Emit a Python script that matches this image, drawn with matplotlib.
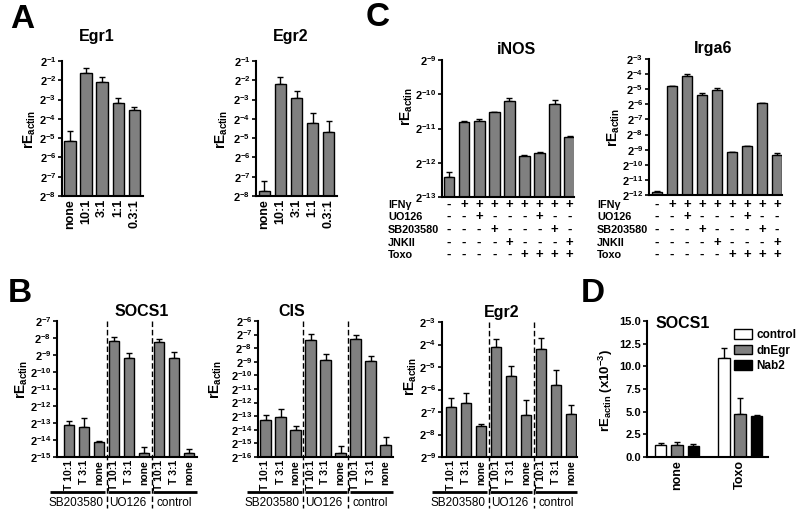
import numpy as np
import matplotlib
matplotlib.use('Agg')
import matplotlib.pyplot as plt

plt.rcParams['font.family'] = ['Liberation Sans', 'DejaVu Sans']
plt.rcParams['font.weight'] = 'bold'
plt.rcParams['mathtext.fontset'] = 'custom'
plt.rcParams['mathtext.rm'] = 'Liberation Sans:bold'
plt.rcParams['mathtext.bf'] = 'Liberation Sans:bold'
plt.rcParams['mathtext.it'] = 'Liberation Sans:bold'
plt.rcParams['mathtext.sf'] = 'Liberation Sans:bold'

# ---------------- data (log2 of rE_actin for panels A-C) ----------------
a_cats = ['none', '10:1', '3:1', '1:1', '0.3:1']
a_egr1 = [-5.15, -1.64, -2.07, -3.16, -3.54]
a_egr1_err = [-4.61, -1.38, -1.81, -2.92, -3.40]
a_egr2 = [-7.76, -2.21, -2.92, -4.23, -4.70]
a_egr2_err = [-7.20, -1.81, -2.57, -3.71, -4.11]

c_rows = ['IFNγ', 'UO126', 'SB203580', 'JNKII', 'Toxo']
c_table = [
    ['-', '+', '+', '+', '+', '+', '+', '+', '+'],
    ['-', '-', '+', '-', '-', '-', '+', '-', '-'],
    ['-', '-', '-', '+', '-', '-', '-', '+', '-'],
    ['-', '-', '-', '-', '+', '-', '-', '-', '+'],
    ['-', '-', '-', '-', '-', '+', '+', '+', '+'],
]
c_inos = [-12.43, -10.80, -10.77, -10.52, -10.19, -11.79, -11.71, -10.28, -11.25]
c_inos_err = [-12.28, -10.78, -10.72, -10.51, -10.10, -11.77, -11.68, -10.16, -11.23]
c_irga6 = [-11.82, -4.81, -4.10, -5.36, -5.03, -9.17, -8.79, -5.94, -9.37]
c_irga6_err = [-11.76, -4.79, -3.96, -5.26, -4.94, -9.15, -8.75, -5.92, -9.24]

b_cats = ['T 10:1', 'T 3:1', 'none', 'T 10:1', 'T 3:1', 'none', 'T 10:1', 'T 3:1', 'none']
b_groups = ['SB203580', 'UO126', 'control']
b_socs1 = [-13.14, -13.25, -14.14, -8.20, -9.20, -14.78, -8.25, -9.20, -14.75]
b_socs1_err = [-12.90, -12.71, -14.06, -7.94, -8.88, -14.39, -8.04, -8.84, -14.51]
b_cis = [-13.30, -13.03, -13.99, -7.42, -8.84, -15.68, -7.32, -8.94, -15.09]
b_cis_err = [-12.89, -12.45, -13.75, -6.93, -8.45, -15.22, -7.05, -8.60, -14.50]
b_egr2 = [-6.78, -6.60, -7.64, -4.13, -5.41, -7.12, -4.21, -5.81, -7.09]
b_egr2_err = [-6.36, -6.14, -7.52, -3.74, -4.96, -6.45, -3.70, -5.12, -6.70]

d_cats = ['none', 'Toxo']
d_series = ['control', 'dnEgr', 'Nab2']
d_control = [1.35, 10.94]
d_control_err = [0.19, 1.10]
d_dnegr = [1.28, 4.79]
d_dnegr_err = [0.37, 1.72]
d_nab2 = [1.24, 4.50]
d_nab2_err = [0.15, 0.11]

# ---------------- figure helpers ----------------
W, H = 800, 518
fig = plt.figure(figsize=(8, 5.18), dpi=100)
GRAY = '#808080'
TS = 11.5   # title size
YLS = 10    # y-label size


def add_axes(x0, x1, y0, y1):
    return fig.add_axes([x0 / W, 1 - y1 / H, (x1 - x0) / W, (y1 - y0) / H])


def ftext(x, y, s, **kw):
    return fig.text(x / W, 1 - y / H, s, **kw)


def style(ax, ysize=8):
    for s in ['top', 'right']:
        ax.spines[s].set_visible(False)
    for s in ['left', 'bottom']:
        ax.spines[s].set_linewidth(1.5)
    ax.tick_params(axis='y', length=3, width=1.2, pad=1, labelsize=ysize)
    ax.tick_params(axis='x', length=0, pad=2, labelsize=8.5)


def log_panel(ax, vals, errtop, ylo, yhi, xlim, width, cats=None, xweight='bold', xsize=9):
    x = np.arange(len(vals))
    v = np.power(2.0, np.array(vals))
    e = np.power(2.0, np.array(errtop))
    base = 2.0 ** ylo
    ax.set_yscale('log', base=2)
    ax.errorbar(x, v, yerr=[np.zeros_like(v), e - v], fmt='none', ecolor='black',
                elinewidth=1.0, capsize=2.5, capthick=1.0, zorder=1)
    ax.bar(x, v - base, bottom=base, width=width, color=GRAY, edgecolor='black',
           linewidth=1.0, zorder=2)
    ax.set_ylim(base, 2.0 ** yhi)
    ax.set_xlim(*xlim)
    ks = list(range(ylo, yhi + 1))
    ax.set_yticks([2.0 ** k for k in ks])
    ax.set_yticklabels([r'$2^{%d}$' % k for k in ks])
    ax.yaxis.set_minor_locator(matplotlib.ticker.NullLocator())
    style(ax)
    if cats is None:
        ax.set_xticks([])
    else:
        ax.set_xticks(x)
        ax.set_xticklabels(cats, rotation=90, fontweight=xweight, fontsize=xsize)


YL = r'rE$_{\mathrm{actin}}$'

# ---------------- Panel A ----------------
axA1 = add_axes(62, 143, 61, 196)
log_panel(axA1, a_egr1, a_egr1_err, -8, -1, (-0.5, 4.56), 0.69, a_cats)
axA2 = add_axes(256, 337, 61, 196)
log_panel(axA2, a_egr2, a_egr2_err, -8, -1, (-0.5, 4.5), 0.68, a_cats)
ftext(97, 37, 'Egr1', ha='center', va='center', fontsize=TS)
ftext(291, 37, 'Egr2', ha='center', va='center', fontsize=TS)
ftext(30, 130, YL, ha='center', va='center', rotation=90, fontsize=YLS)
ftext(222, 130, YL, ha='center', va='center', rotation=90, fontsize=YLS)

# ---------------- Panel C ----------------
row_y = [205, 217, 230, 243, 255]


def table(ax, ytop, ybot, xlab):
    for r, (lab, signs) in enumerate(zip(c_rows, c_table)):
        ftext(xlab, row_y[r], lab, ha='left', va='center', fontsize=7.8)
        yf = (ybot - row_y[r]) / (ybot - ytop)
        for j, s in enumerate(signs):
            ax.text(j, yf, s, transform=ax.get_xaxis_transform(), ha='center',
                    va='center', fontsize=9.5, clip_on=False)


axC1 = add_axes(442, 574, 60, 197)
log_panel(axC1, c_inos, c_inos_err, -13, -9, (-0.46, 8.28), 0.72)
table(axC1, 60, 197, 388)
axC2 = add_axes(649, 782, 59, 195)
log_panel(axC2, c_irga6, c_irga6_err, -12, -3, (-0.53, 8.33), 0.72)
table(axC2, 59, 195, 597)
ftext(517, 50, 'iNOS', ha='center', va='center', fontsize=TS)
ftext(713, 48, 'Irga6', ha='center', va='center', fontsize=TS)
ftext(407, 107, YL, ha='center', va='center', rotation=90, fontsize=YLS)
ftext(614, 128, YL, ha='center', va='center', rotation=90, fontsize=YLS)

# ---------------- Panel B ----------------


def groups(ax, ytop, ybot, xlim):
    h = ybot - ytop
    f = lambda py: (ybot - py) / h
    for xs in (2.5, 5.5):
        ax.plot([xs, xs], [1.0, f(508)], transform=ax.get_xaxis_transform(),
                ls=(0, (4, 2)), color='black', lw=1.0, clip_on=False, zorder=3)
    spans = [(-1.25, 2.4), (2.6, 5.4), (5.6, xlim[1])]
    centers = [0.45, 3.9, 7.0]
    for (a, b), c, name in zip(spans, centers, b_groups):
        ax.plot([a, b], [f(492), f(492)], transform=ax.get_xaxis_transform(),
                color='black', lw=2.0, clip_on=False, solid_capstyle='butt')
        ax.text(c, f(503), name, transform=ax.get_xaxis_transform(),
                ha='center', va='center', fontsize=8.5, fontweight='normal')


xlB1 = (-0.8, 8.53)
axB1 = add_axes(57, 197, 321, 457)
log_panel(axB1, b_socs1, b_socs1_err, -15, -7, xlB1, 0.68, b_cats, 'bold', 7.5)
groups(axB1, 321, 457, xlB1)
xlB2 = (-0.5, 8.5)
axB2 = add_axes(258, 393, 321, 457)
log_panel(axB2, b_cis, b_cis_err, -16, -6, xlB2, 0.68, b_cats, 'bold', 7.5)
groups(axB2, 321, 457, xlB2)
xlB3 = (-0.6, 8.4)
axB3 = add_axes(442, 577, 322, 457)
log_panel(axB3, b_egr2, b_egr2_err, -9, -3, xlB3, 0.68, b_cats, 'bold', 7.5)
groups(axB3, 322, 457, xlB3)
ftext(142, 312, 'SOCS1', ha='center', va='center', fontsize=TS)
ftext(292, 312, 'CIS', ha='center', va='center', fontsize=TS)
ftext(502, 312, 'Egr2', ha='center', va='center', fontsize=TS)
ftext(22, 380, YL, ha='center', va='center', rotation=90, fontsize=YLS)
ftext(216, 380, YL, ha='center', va='center', rotation=90, fontsize=YLS)
ftext(411, 377, YL, ha='center', va='center', rotation=90, fontsize=YLS)

# ---------------- Panel D ----------------
axD = add_axes(647, 768, 321, 457)
xd = np.arange(len(d_cats))
off, bw = 0.26, 0.185
d_vals = [d_control, d_dnegr, d_nab2]
d_errs = [d_control_err, d_dnegr_err, d_nab2_err]
d_cols = ['white', GRAY, 'black']
for i, (vals, errs, col, name) in enumerate(zip(d_vals, d_errs, d_cols, d_series)):
    xx = xd + (i - 1) * off
    axD.errorbar(xx, vals, yerr=[np.zeros(len(vals)), errs], fmt='none', ecolor='black',
                 elinewidth=1.0, capsize=2.5, capthick=1.0, zorder=1)
    axD.bar(xx, vals, width=bw, color=col, edgecolor='black', linewidth=1.0,
            zorder=2, label=name)
axD.set_ylim(0, 15)
axD.set_xlim(-0.476, 1.44)
axD.set_yticks(np.arange(0, 15.1, 2.5))
axD.set_yticklabels(['%.1f' % t for t in np.arange(0, 15.1, 2.5)])
style(axD, 8)
axD.set_xticks(xd)
axD.set_xticklabels(d_cats, rotation=90, fontsize=9)
axD.legend(loc='upper left', bbox_to_anchor=((734 - 647) / 121, (457 - 329) / 136),
           frameon=False, fontsize=8.5, handlelength=1.5, handleheight=0.9,
           handletextpad=0.4, labelspacing=0.3, borderaxespad=0, borderpad=0)
ftext(683, 324, 'SOCS1', ha='center', va='center', fontsize=TS)
ftext(606, 390, r'rE$_{\mathrm{actin}}$ (x10$^{-3}$)', ha='center', va='center',
      rotation=90, fontsize=9.5)

# ---------------- panel letters ----------------
for lab, (px, py) in zip('ABCD', [(22, 19), (20, 293), (378, 18), (593, 294)]):
    ftext(px, py, lab, ha='center', va='center', fontsize=24, fontweight='bold')

fig.savefig('out.png', dpi=100)
